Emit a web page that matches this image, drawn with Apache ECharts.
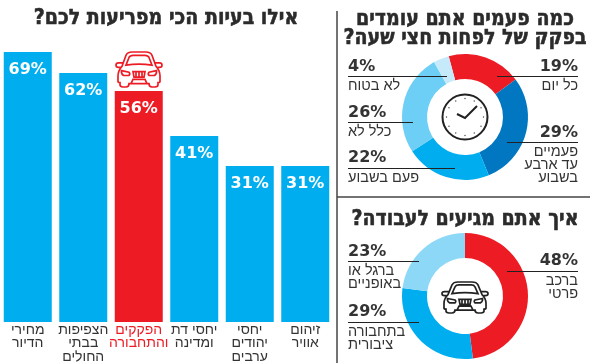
<!DOCTYPE html>
<html><head><meta charset="utf-8">
<script src="https://cdn.jsdelivr.net/npm/echarts@6/dist/echarts.min.js"></script>
<style>html,body{margin:0;padding:0;background:#fff}#c{width:590px;height:363px}</style>
</head><body><div id="c"></div>
<script>
const categories = ['מחירי\nהדיור','הצפיפות\nבבתי\nהחולים','הפקקים\nוהתחבורה','יחסי דת\nומדינה','יחסי\nיהודים\nערבים','זיהום\nאוויר'];
const barValues = [69,62,56,41,31,31];
const highlightIndex = 2;
const commuteValues = [19,29,22,26,4];
const commuteLabels = ['כל יום','פעמיים\nעד ארבע\nבשבוע','פעם בשבוע','כלל לא','לא בטוח'];
const workValues = [48,29,23];
const workLabels = ['ברכב\nפרטי','בתחבורה\nציבורית','ברגל או\nבאופניים'];
const titleBars = 'אילו בעיות הכי מפריעות לכם?';
const titleCommute = 'כמה פעמים אתם עומדים\nבפקק של לפחות חצי שעה?';
const titleWork = 'איך אתם מגיעים לעבודה?';

const RED='#ED1C24', BLUE='#00AEEF', DARK='#0077C0', MID='#6DCFF6', PALE='#C7EAFB', SOFT='#8DD7F7', INK='#2b2b2b';
const HEB='"Liberation Sans","DejaVu Sans",sans-serif', BOLD='"DejaVu Sans",sans-serif';
const AXIS_MIN=-21, AXIS_MAX=79;
const rtl=s=>s.split('\n').map(l=>'\u200F'+l+'\u200F').join('\n');

const CAR='M6 14L10 4Q11.5 1 16 1L30 1Q34.5 1 36 4L40 14Q44 18 44 23L44 28Q44 29 42 29L42 31Q42 33 39 33L36 33Q33 33 33 30L13 30Q13 33 10 33L7 33Q4 33 4 31L4 29Q2 29 2 28L2 23Q2 18 6 14Z'
+'M10 13L13 6Q14 4 17 4L29 4Q32 4 33 6L36 13Q23 11 10 13Z'
+'M7 11L2.5 11Q0 11 0 13Q0 15 2.5 15L4.5 15M39 11L43.5 11Q46 11 46 13Q46 15 43.5 15L41.5 15'
+'M5.5 18L13 19.5Q14.5 21 13 22.5L7.5 22.5Q5 21 5.5 18ZM40.5 18L33 19.5Q31.5 21 33 22.5L38.5 22.5Q41 21 40.5 18Z'
+'M17 19L29 19L28 24L18 24ZM20 19.5L20 23.5M23 19.5L23 23.5M26 19.5L26 23.5'
+'M15 30L17 26L29 26L31 30';
function carSeries(x,y,h,color){return {type:'custom',coordinateSystem:'none',silent:true,z:20,data:[[0]],
 renderItem:()=>({type:'path',shape:{pathData:CAR,layout:'cover',x:x,y:y,width:46,height:h},style:{fill:'none',stroke:color,lineWidth:1.7}})};}

function text(t,x,y,opt,extra){return Object.assign({type:'text',x:x,y:y,z:30,silent:true,
 style:Object.assign({text:t,fontFamily:HEB,fontSize:14,fill:INK,verticalAlign:'middle'},opt||{})},extra||{});}
const titleStyle={fontFamily:BOLD,fontWeight:'bold',fontSize:19,align:'center',stroke:INK,lineWidth:0.5};
function title(t,x,y){return text(rtl(t),x,y,titleStyle,{scaleY:1.12});}
function callout(value,label,side,yVal,yLine,yLab,xEnd,lh){
 const left=side==='left', edge=left?348:578, align=left?'left':'right';
 const out=[
  text(value+'%',edge,yVal,{fontFamily:BOLD,fontWeight:'bold',fontSize:16,align:align,fill:'#333'}),
  {type:'line',z:25,silent:true,shape:{x1:edge,y1:yLine+0.5,x2:xEnd,y2:yLine+0.5},style:{stroke:'#222',lineWidth:1}}
 ];
 rtl(label).split('\n').forEach((l,i)=>out.push(text(l,edge,yLab+i*lh,{align:align,fill:'#333',fontSize:14.5})));
 return out;
}
const clockC=[465,117];
const clock=[{type:'circle',z:20,silent:true,shape:{cx:clockC[0],cy:clockC[1],r:22.5},style:{fill:'#fff',stroke:'#222',lineWidth:2}},
 {type:'polyline',z:21,silent:true,shape:{points:[[457,114],[465,118],[477,106]]},style:{fill:null,stroke:'#222',lineWidth:2}}];
for(let i=0;i<12;i++){const a=i*Math.PI/6;clock.push({type:'circle',z:21,silent:true,
 shape:{cx:clockC[0]+18.5*Math.sin(a),cy:clockC[1]-18.5*Math.cos(a),r:0.7},style:{fill:'#444'}});}

const graphics=[
 {type:'line',silent:true,shape:{x1:337,y1:11,x2:337,y2:363},style:{stroke:'#444',lineWidth:1.5}},
 {type:'line',silent:true,shape:{x1:337,y1:197,x2:590,y2:197},style:{stroke:'#444',lineWidth:1.5}},
 title(titleBars,166,18),
 ...titleCommute.split('\n').map((l,i)=>title(l,465,19+i*19.5)),
 title(titleWork,465,219),
 ...callout(commuteValues[4],commuteLabels[4],'left',67,76,86,447,13),
 ...callout(commuteValues[3],commuteLabels[3],'left',113,122,132,413,13),
 ...callout(commuteValues[2],commuteLabels[2],'left',158,168,178,455,13),
 ...callout(commuteValues[0],commuteLabels[0],'right',67,76,86,497,13),
 ...callout(commuteValues[1],commuteLabels[1],'right',133,142,152,507,13),
 ...callout(workValues[2],workLabels[2],'left',252,261,271,419,13),
 ...callout(workValues[1],workLabels[1],'left',312,322,332,419,13),
 ...callout(workValues[0],workLabels[0],'right',261,271,281,507,13),
 ...clock
];
const chart=echarts.init(document.getElementById('c'),null,{renderer:'canvas'});
chart.setOption({
 animation:false,
 backgroundColor:'#fff',
 grid:{left:0,top:22,width:333,height:300,outerBoundsMode:'none'},
 xAxis:{type:'category',data:categories,axisLine:{show:false},axisTick:{show:false},
  axisLabel:{interval:0,margin:1,fontFamily:HEB,fontSize:14,lineHeight:13.5,verticalAlign:'top',
   formatter:v=>rtl(v),color:(v,i)=>i===highlightIndex?RED:'#333'}},
 yAxis:{type:'value',min:AXIS_MIN,max:AXIS_MAX,show:false},
 series:[
  {type:'custom',data:barValues.map((v,i)=>[i,v]),encode:{x:0,y:1},clip:false,
   renderItem:(p,api)=>{
    const i=api.value(0), v=api.value(1), top=api.coord([i,v]), bot=api.coord([i,AXIS_MIN]), w=48;
    return {type:'group',children:[
     {type:'rect',shape:{x:top[0]-w/2,y:top[1],width:w,height:bot[1]-top[1]},style:{fill:i===highlightIndex?RED:BLUE}},
     {type:'text',x:top[0],y:top[1]+18,style:{text:v+'%',fill:'#fff',fontFamily:BOLD,fontWeight:'bold',fontSize:16,align:'center',verticalAlign:'middle'}}
    ]};
   }},
  {type:'pie',silent:true,center:[465,117],radius:[38,63],startAngle:105,label:{show:false},labelLine:{show:false},
   data:commuteValues.map((v,i)=>({value:v,name:commuteLabels[i],itemStyle:{color:[RED,DARK,BLUE,MID,PALE][i]}}))},
  {type:'pie',silent:true,center:[465,296],radius:[38,63],startAngle:90,label:{show:false},labelLine:{show:false},
   data:workValues.map((v,i)=>({value:v,name:workLabels[i],itemStyle:{color:[RED,BLUE,SOFT][i]}}))},
  carSeries(116,52,35,RED),
  carSeries(442,282,31,'#222')
 ],
 graphic:{elements:graphics}
});
</script></body></html>
